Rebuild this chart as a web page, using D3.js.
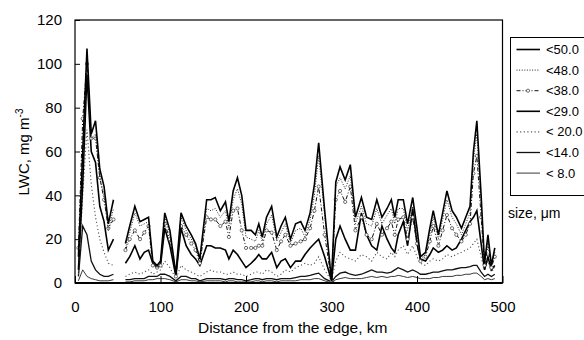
<!DOCTYPE html>
<html lang="en">
<head>
  <meta charset="utf-8">
  <title>LWC vs distance from the edge</title>
  <script src="https://cdnjs.cloudflare.com/ajax/libs/d3/7.8.5/d3.min.js"></script>
  <style type="text/css">
  body { margin: 0; background: #fff; }
  #chart { display: block; }
  text { font-family: 'Liberation Sans', Arial, sans-serif; fill: #000; }
  </style>
</head>
<body>
  <svg id="chart"></svg>
  <script type="text/javascript">
  // distance from the edge, km (null value at 52 = gap in the record)
  var km = [
    4, 9, 14, 19, 24, 29, 34, 39, 45,
    52,
    59, 64, 70, 76, 81, 86, 91, 96, 100, 105,
    111, 118, 124, 130, 136, 141, 146, 154, 159, 164,
    170, 176, 180, 185, 190, 195, 200, 206, 211, 215,
    219, 224, 230, 236, 241, 246, 252, 258, 264, 269,
    275, 280, 285, 292, 300, 305, 310, 316, 322, 328,
    335, 341, 347, 353, 359, 365, 370, 374, 378, 384,
    389, 395, 400, 404, 410, 415, 419, 425, 430, 435,
    441, 446, 452, 457, 462, 466, 470, 475, 479, 483,
    487, 491
  ];

  var lwc50 = [
    12, 60, 107, 68, 74, 52, 44, 27, 38,
    null,
    18, 26, 35, 28, 29, 30, 10, 8, 10, 32,
    24, 4, 32, 26, 22, 18, 11, 38, 38, 39,
    33, 37, 28, 42, 48, 40, 24, 24, 22, 27,
    21, 30, 35, 21, 26, 30, 20, 27, 28, 24,
    32, 45, 64, 33, 1, 46, 53, 47, 54, 30,
    39, 30, 29, 38, 30, 34, 38, 30, 38, 38,
    27, 39, 25, 12, 14, 25, 33, 22, 32, 42,
    33, 30, 25, 30, 35, 60, 74, 40, 9, 22,
    8, 16
  ];
  var lwc48 = [
    10, 55, 104, 66, 68, 48, 40, 24, 34,
    null,
    16, 23, 32, 26, 27, 28, 10, 7, 9, 30,
    22, 4, 30, 24, 20, 17, 10, 34, 33, 34,
    30, 33, 25, 38, 43, 36, 21, 20, 19, 24,
    19, 27, 31, 19, 23, 27, 18, 24, 25, 21,
    29, 40, 58, 31, 1, 44, 48, 43, 49, 27,
    35, 27, 26, 34, 27, 31, 34, 27, 34, 34,
    24, 35, 22, 11, 13, 22, 30, 20, 29, 38,
    30, 27, 22, 27, 32, 56, 68, 36, 9, 20,
    8, 14
  ];
  var lwc38 = [
    16, 75, 100, 66, 66, 48, 38, 25, 29,
    null,
    15, 20, 24, 20, 23, 26, 8, 7, 8, 27,
    20, 3, 26, 22, 18, 15, 9, 30, 29, 29,
    26, 28, 21, 33, 34, 24, 16, 16, 16, 17,
    17, 24, 23, 15, 19, 22, 17, 18, 19, 20,
    25, 33, 44, 22, 1, 38, 42, 37, 44, 24,
    30, 22, 20, 27, 22, 25, 28, 22, 29, 30,
    20, 30, 18, 10, 12, 19, 26, 17, 24, 31,
    25, 22, 19, 22, 27, 50, 58, 30, 8, 17,
    7, 12
  ];
  var lwc29 = [
    6, 45, 95, 60, 55, 35, 28, 15, 20,
    null,
    9, 12, 17, 11, 14, 15, 9, 7, 8, 25,
    17, 3, 25, 17, 13, 11, 8, 17, 17, 16,
    16, 15, 11, 15, 13, 10, 7, 9, 11, 13,
    11, 11, 14, 7, 10, 11, 7, 10, 10, 13,
    16, 18, 20, 12, 1, 20, 26, 20, 15, 15,
    32, 22, 17, 15, 26, 20, 16, 14, 22, 28,
    17, 34, 18, 11, 10, 13, 16, 14, 15, 17,
    15, 16, 20, 24, 28, 30, 33, 18, 6, 12,
    6, 8
  ];
  var lwc20 = [
    4, 40, 70, 45, 30, 20, 14, 9, 8,
    null,
    3, 4, 5, 4, 5, 6, 4, 5, 6, 10,
    7, 2, 8, 6, 5, 4, 3, 5, 6, 5,
    5, 4, 4, 5, 4, 4, 3, 4, 5, 5,
    4, 6, 5, 3, 4, 6, 5, 7, 8, 9,
    8, 9, 12, 6, 1, 10, 14, 12, 11, 10,
    13, 12, 10, 14, 12, 11, 14, 12, 15, 17,
    13, 17, 12, 9, 8, 10, 11, 10, 11, 13,
    12, 13, 14, 15, 16, 18, 20, 12, 6, 10,
    5, 7
  ];
  var lwc14 = [
    3, 26, 22, 10, 6, 4, 3, 3, 4,
    null,
    1.5, 1.5, 2, 2, 2, 3, 3, 3, 4, 4,
    3, 1, 3, 3, 2, 2, 1, 2, 2, 2,
    2, 1.5, 2, 2, 1.5, 1.5, 1, 1.5, 2, 2,
    1.5, 2, 2, 1.5, 2, 2, 2, 2.5, 3, 3,
    3.5, 4, 4.5, 2, 0.5, 3, 4.5, 5, 4, 3.5,
    4, 5, 6, 5, 5, 4.5, 5, 6, 7, 6,
    5, 6, 5, 4, 4, 4.5, 5, 5, 5.5, 6,
    6, 6.5, 7, 7, 7.5, 8, 8, 5, 3, 4,
    3, 4
  ];
  var lwc8 = [
    1, 6, 3, 2, 1.5, 1, 1, 1, 1.5,
    null,
    0.5, 0.5, 1, 1, 1, 1.5, 1.5, 2, 2, 2,
    1.5, 0.5, 1.5, 1.5, 1, 1, 0.5, 1, 1, 1,
    1, 0.5, 1, 1, 0.5, 0.5, 0.5, 0.5, 1, 1,
    0.5, 1, 1, 0.5, 1, 1, 1, 1, 1.5, 1.5,
    1.5, 2, 2, 1, 0, 1.5, 2, 2.5, 2, 2,
    2, 2.5, 3, 2.5, 3, 2.5, 3, 3, 3.5, 3,
    2.5, 3, 2.5, 2, 2, 2, 2.5, 2.5, 3, 3,
    3, 3.5, 3.5, 4, 4, 4.5, 4.5, 3, 1.5, 2,
    1.5, 2
  ];

  var sizeLabels = ["<50.0", "<48.0", "<38.0", "<29.0", "< 20.0", "<14.0", "< 8.0"];
  var xTicks = [0, 100, 200, 300, 400, 500];
  var yTicks = [0, 20, 40, 60, 80, 100, 120];

  var w = 584;
  var h = 340;
  var margin = {left: 75, right: 81.5, top: 20, bottom: 57};

  var svg = d3.select("#chart")
    .attr("width", w)
    .attr("height", h);

  var x = d3.scaleLinear().domain([0, 500]).range([margin.left, w - margin.right]);
  var y = d3.scaleLinear().domain([0, 120]).range([h - margin.bottom, margin.top]);

  // line style per size class
  var styles = [
    {values: lwc50, width: 1.6, dash: null,      color: "#000"},
    {values: lwc48, width: 1,   dash: "1,1.6",   color: "#222"},
    {values: lwc38, width: 1,   dash: "4,2,1,2", color: "#111", marker: true},
    {values: lwc29, width: 1.6, dash: null,      color: "#000"},
    {values: lwc20, width: 1.1, dash: "1.2,2.4", color: "#555"},
    {values: lwc14, width: 1.3, dash: null,      color: "#111"},
    {values: lwc8,  width: 0.9, dash: null,      color: "#222"}
  ];

  var line = d3.line()
    .defined(function(d) { return d[1] != null; })
    .x(function(d) { return x(d[0]); })
    .y(function(d) { return y(d[1]); });

  var plot = svg.append("g");

  // draw from smallest to largest so the thick top line stays on top
  styles.slice().reverse().forEach(function(s) {
    var pts = km.map(function(k, i) { return [k, s.values[i]]; });
    plot.append("path")
      .datum(pts)
      .attr("fill", "none")
      .attr("stroke", s.color)
      .attr("stroke-width", s.width)
      .attr("stroke-dasharray", s.dash)
      .attr("stroke-linejoin", "miter")
      .attr("d", line);
    if (s.marker) {
      plot.selectAll(null)
        .data(pts.filter(function(d) { return d[1] != null; }))
        .enter()
        .append("circle")
        .attr("cx", function(d) { return x(d[0]); })
        .attr("cy", function(d) { return y(d[1]); })
        .attr("r", 1.6)
        .attr("fill", "#fff")
        .attr("stroke", "#333")
        .attr("stroke-width", 0.7);
    }
  });

  // frame
  svg.append("rect")
    .attr("x", x(0))
    .attr("y", y(120))
    .attr("width", x(500) - x(0))
    .attr("height", y(0) - y(120))
    .attr("fill", "none")
    .attr("stroke", "#000")
    .attr("stroke-width", 1.2);
  svg.append("line")
    .attr("x1", x(0)).attr("x2", x(500))
    .attr("y1", y(0)).attr("y2", y(0))
    .attr("stroke", "#000")
    .attr("stroke-width", 2.2);

  // axes with inside ticks
  var xAxis = svg.append("g")
    .attr("transform", "translate(0," + y(0) + ")")
    .call(d3.axisBottom(x).tickValues(xTicks).tickSize(-7).tickPadding(18));
  var yAxis = svg.append("g")
    .attr("transform", "translate(" + x(0) + ",0)")
    .call(d3.axisLeft(y).tickValues(yTicks).tickSize(-5).tickPadding(13));
  [xAxis, yAxis].forEach(function(a) {
    a.select(".domain").remove();
    a.selectAll(".tick line").attr("stroke", "#000");
    a.selectAll("text")
      .style("font-size", "15px")
      .style("font-family", "'Liberation Sans', Arial, sans-serif")
      .attr("fill", "#000");
  });

  // axis titles
  svg.append("text")
    .attr("x", (x(0) + x(500)) / 2 + 4)
    .attr("y", 333)
    .attr("text-anchor", "middle")
    .style("font-size", "15.5px")
    .text("Distance from the edge, km");

  var yTitle = svg.append("text")
    .attr("transform", "translate(29," + 152 + ") rotate(-90)")
    .attr("text-anchor", "middle")
    .style("font-size", "15px");
  yTitle.append("tspan").text("LWC, mg m");
  yTitle.append("tspan")
    .attr("dy", -6)
    .style("font-size", "10px")
    .text("-3");

  // legend
  var legend = svg.append("g");
  legend.append("rect")
    .attr("x", 510.5)
    .attr("y", 37.5)
    .attr("width", 90)
    .attr("height", 158)
    .attr("fill", "#fff")
    .attr("stroke", "#000")
    .attr("stroke-width", 1);

  sizeLabels.forEach(function(lab, i) {
    var s = styles[i];
    var ly = 49.5 + i * 20.6;
    legend.append("line")
      .attr("x1", 516.5).attr("x2", 540)
      .attr("y1", ly).attr("y2", ly)
      .attr("stroke", s.color)
      .attr("stroke-width", s.width)
      .attr("stroke-dasharray", s.dash);
    if (s.marker) {
      legend.append("circle")
        .attr("cx", 528).attr("cy", ly)
        .attr("r", 1.6)
        .attr("fill", "#fff")
        .attr("stroke", "#333")
        .attr("stroke-width", 0.7);
    }
    legend.append("text")
      .attr("x", 546)
      .attr("y", ly + 4.5)
      .style("font-size", "13px")
      .text(lab);
  });

  svg.append("text")
    .attr("x", 508)
    .attr("y", 218)
    .style("font-size", "14px")
    .text("size, \u03bcm");
  </script>
</body>
</html>
